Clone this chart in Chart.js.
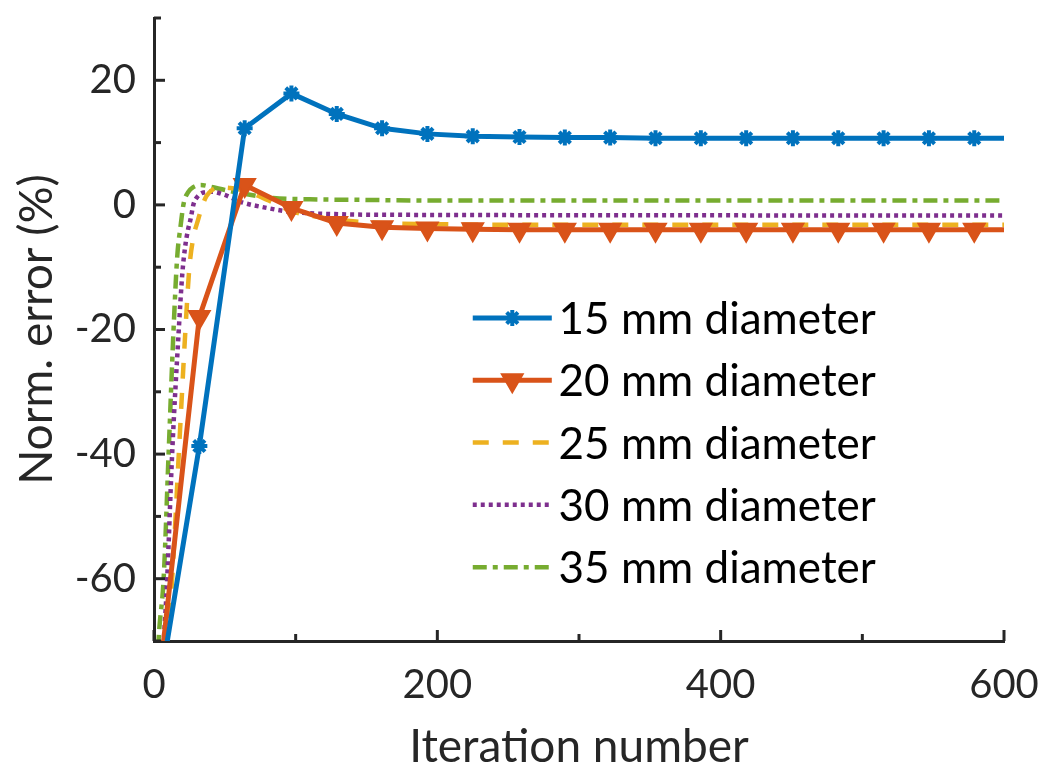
<!DOCTYPE html>
<html><head><meta charset="utf-8">
<script src="https://cdn.jsdelivr.net/npm/chart.js@4.4.1/dist/chart.umd.min.js"></script>
<style>html,body{margin:0;padding:0;background:#fff}</style>
</head><body>
<canvas id="c" width="1050" height="783"></canvas>
<script>
// ---- data ----
const seriesLabels = ['15 mm diameter', '20 mm diameter', '25 mm diameter', '30 mm diameter', '35 mm diameter'];

// marker series (15 mm, 20 mm) share iteration positions
const markerIters = [0, 32, 64, 97, 129, 161, 193, 225, 258, 290, 322, 354, 386, 418, 451, 483, 515, 547, 579, 600];
const err15 = [-83, -38.7, 12.3, 17.9, 14.6, 12.3, 11.4, 11.0, 10.9, 10.8, 10.8, 10.7, 10.7, 10.7, 10.7, 10.7, 10.7, 10.7, 10.7, 10.7];
const err20 = [-84, -18, 3.2, -0.5, -2.9, -3.6, -3.8, -3.9, -4.0, -4.0, -4.0, -4.0, -4.0, -4.0, -4.0, -4.0, -4.0, -4.0, -4.0, -4.0];

// smooth curves
const iters25 = [0, 9.3, 12.8, 17.5, 22.2, 25, 28, 31, 34, 37, 41, 46, 54, 65, 80, 96, 120, 160, 200, 250, 600];
const err25   = [-100, -70, -60, -40, -20, -10, -5, -2.5, -0.2, 1.4, 2.4, 2.8, 2.7, 2.2, 0.8, -0.9, -2.1, -2.9, -3.1, -3.2, -3.2];

const iters30 = [0, 6.9, 9.3, 12.8, 17.5, 20, 22, 24, 25.7, 28, 31, 35, 41, 50, 61, 80, 96, 131, 180, 600];
const err30   = [-95, -70, -60, -40, -20, -11, -6.7, -4, -2.4, 0.2, 1.4, 2.0, 2.1, 1.6, 0.5, -0.5, -1.1, -1.5, -1.6, -1.7];

const iters35 = [0, 3.2, 6.8, 10.3, 13.8, 16.4, 18.7, 21, 24, 28, 33, 40, 50, 61, 84, 110, 150, 200, 600];
const err35   = [-88, -70, -60, -40, -20, -8.3, -3.5, 0.3, 2.0, 2.9, 3.2, 2.9, 2.4, 1.9, 1.1, 0.9, 0.8, 0.7, 0.7];

// axis ticks
const xLabelTicks = [0, 200, 400, 600];
const yLabelTicks = [-60, -40, -20, 0, 20];

// ---- build ----
const pts = (xs, ys) => xs.map((x, i) => ({x, y: ys[i]}));
const colors = ['#0072BD', '#D95319', '#EDB120', '#7E2F8E', '#77AC30'];
const lastIdx = markerIters.length - 1;

Chart.defaults.font.family = 'Lato, "Open Sans", sans-serif';
Chart.defaults.color = '#262626';

const insideLegend = {
  id: 'insideLegend',
  afterDatasetsDraw(chart) {
    const {ctx, chartArea: a} = chart;
    const w = a.right - a.left, h = a.bottom - a.top;
    const x0 = a.left + w * 0.375, x1 = a.left + w * 0.468, tx = a.left + w * 0.476;
    const y0 = a.top + h * 0.4815, dy = h * 0.1;
    ctx.save();
    chart.data.datasets.forEach((ds, i) => {
      const y = y0 + i * dy;
      ctx.strokeStyle = ds.borderColor;
      ctx.lineWidth = ds.borderWidth;
      ctx.setLineDash(ds.borderDash || []);
      ctx.lineCap = 'butt';
      ctx.beginPath(); ctx.moveTo(x0, y); ctx.lineTo(x1, y); ctx.stroke();
      ctx.setLineDash([]);
      if (ds.legendMarker) {
        ctx.fillStyle = ds.pointBackgroundColor; ctx.strokeStyle = ds.borderColor;
        ctx.lineWidth = ds.pointBorderWidth;
        Chart.helpers.drawPoint(ctx, {
          pointStyle: ds.pointStyle, rotation: ds.pointRotation || 0,
          radius: ds.legendMarker, borderWidth: ds.pointBorderWidth
        }, (x0 + x1) / 2, y);
      }
      ctx.fillStyle = '#000';
      ctx.font = '44px Lato, "Open Sans", sans-serif';
      ctx.textBaseline = 'middle';
      ctx.textAlign = 'left';
      ctx.fillText(ds.label, tx, y + 2);
    });
    ctx.restore();
  }
};

const inwardTicks = {
  id: 'inwardTicks',
  afterDraw(chart) {
    const {ctx, chartArea: a, scales} = chart;
    ctx.save();
    ctx.strokeStyle = '#262626';
    ctx.lineWidth = 3;
    scales.y.ticks.forEach(t => {
      const y = scales.y.getPixelForValue(t.value);
      const len = yLabelTicks.includes(t.value) ? 11 : 7;
      ctx.beginPath(); ctx.moveTo(a.left, y); ctx.lineTo(a.left + len, y); ctx.stroke();
    });
    scales.x.ticks.forEach(t => {
      const x = scales.x.getPixelForValue(t.value);
      const len = xLabelTicks.includes(t.value) ? 11 : 7;
      ctx.beginPath(); ctx.moveTo(x, a.bottom); ctx.lineTo(x, a.bottom - len); ctx.stroke();
    });
    ctx.restore();
  }
};

new Chart(document.getElementById('c'), {
  type: 'line',
  data: {
    datasets: [
      {label: seriesLabels[0], data: pts(markerIters, err15), borderColor: colors[0], backgroundColor: colors[0],
       borderWidth: 5, pointStyle: 'star', pointRadius: c => c.dataIndex === lastIdx ? 0 : 8,
       pointBorderWidth: 4, pointBackgroundColor: colors[0], pointBorderColor: colors[0], legendMarker: 8},
      {label: seriesLabels[1], data: pts(markerIters, err20), borderColor: colors[1], backgroundColor: colors[1],
       borderWidth: 5, pointStyle: 'triangle', pointRotation: 180, pointRadius: c => c.dataIndex === lastIdx ? 0 : 12,
       pointBorderWidth: 2, pointBackgroundColor: colors[1], pointBorderColor: colors[1], legendMarker: 12},
      {label: seriesLabels[2], data: pts(iters25, err25), borderColor: colors[2], borderWidth: 4.5,
       borderDash: [16, 14], pointRadius: 0, cubicInterpolationMode: 'monotone'},
      {label: seriesLabels[3], data: pts(iters30, err30), borderColor: colors[3], borderWidth: 4.5,
       borderDash: [4, 4], pointRadius: 0, cubicInterpolationMode: 'monotone'},
      {label: seriesLabels[4], data: pts(iters35, err35), borderColor: colors[4], borderWidth: 4.5,
       borderDash: [14, 6, 5, 6], pointRadius: 0, cubicInterpolationMode: 'monotone'}
    ]
  },
  options: {
    responsive: false,
    animation: false,
    events: [],
    layout: {padding: {left: 0, right: 46, top: 18, bottom: 0}},
    plugins: {legend: {display: false}, tooltip: {enabled: false}},
    scales: {
      x: {
        type: 'linear', min: 0, max: 600,
        afterFit: s => { s.height = 142; s.paddingLeft = 0; s.paddingRight = 0; },
        ticks: {stepSize: 50, padding: 20, font: {size: 40}, color: '#262626', maxRotation: 0,
                callback: v => xLabelTicks.includes(v) ? String(v) : ''},
        grid: {display: true, drawOnChartArea: false, drawTicks: false},
        border: {display: true, color: '#262626', width: 3},
        title: {display: true, text: 'Iteration number', font: {size: 46}, color: '#262626', padding: {top: 0, bottom: 8}}
      },
      y: {
        type: 'linear', min: -70, max: 30,
        afterFit: s => { s.width = 154; s.paddingTop = 0; s.paddingBottom = 0; },
        ticks: {stepSize: 5, padding: 18, font: {size: 40}, color: '#262626',
                callback: v => yLabelTicks.includes(v) ? String(v) : ''},
        grid: {display: true, drawOnChartArea: false, drawTicks: false},
        border: {display: true, color: '#262626', width: 3},
        title: {display: true, text: 'Norm. error (%)', font: {size: 46}, color: '#262626', padding: {top: 10, bottom: 0}}
      }
    }
  },
  plugins: [insideLegend, inwardTicks]
});
</script>
</body></html>
